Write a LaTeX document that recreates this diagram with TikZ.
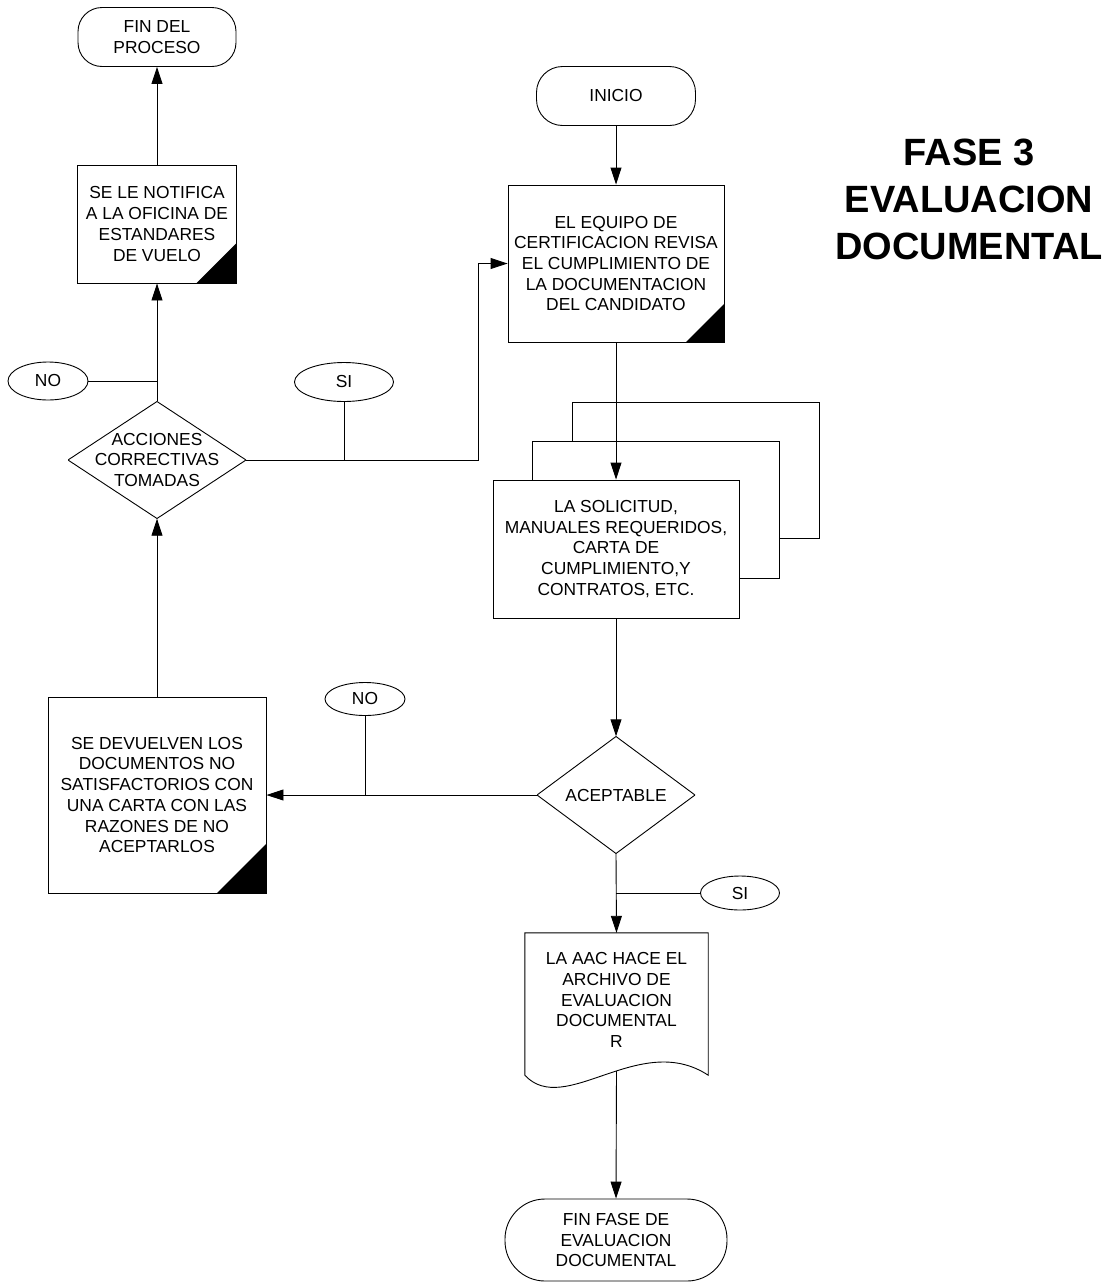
\documentclass[tikz,border=0pt]{standalone}
\usepackage{fontspec}
\setmainfont{Liberation Sans}
\usetikzlibrary{arrows.meta,shapes.geometric,calc}

\begin{document}
\begin{tikzpicture}[x=1pt,y=-1pt,
  every node/.style={font=\fontsize{17.4}{20.7}\selectfont, align=center, inner sep=0pt},
  line/.style={draw=black, line width=0.9pt},
  flow/.style={line, -{Triangle[length=17pt,width=11pt]}},
  terminal/.style={draw, line width=0.9pt, rounded corners=#1},
  terminal/.default=26pt,
  process/.style={draw, line width=0.9pt, fill=white},
  marked/.style={process, path picture={\fill[black] ([xshift=-#1]path picture bounding box.south east) -- (path picture bounding box.south east) -- ([yshift=#1]path picture bounding box.south east) -- cycle;}},
  decision/.style={path picture={\draw[black, line width=0.9pt] (path picture bounding box.north) -- (path picture bounding box.east) -- (path picture bounding box.south) -- (path picture bounding box.west) -- cycle;}},
  tag/.style={draw, ellipse, line width=0.9pt},
]
\useasboundingbox (0,0) rectangle (1112,1285);

% left column: corrective actions loop
\node[terminal=24pt, minimum width=158pt, minimum height=59pt] (finproc) at (157,37) {FIN DEL\\PROCESO};
\node[marked=40pt, minimum width=159pt, minimum height=118pt] (notif) at (157,224) {SE LE NOTIFICA\\A LA OFICINA DE\\ESTANDARES\\DE VUELO};
\node[decision, minimum width=178pt, minimum height=117pt] (acc) at (157,460) {ACCIONES\\CORRECTIVAS\\TOMADAS};
\node[tag, minimum width=80pt, minimum height=38pt] (no1) at (48,381) {NO};
\node[tag, minimum width=99pt, minimum height=39pt] (si1) at (344,382) {SI};
\node[marked=49pt, minimum width=218pt, minimum height=196pt] (devol) at (157,795) {SE DEVUELVEN LOS\\DOCUMENTOS NO\\SATISFACTORIOS CON\\UNA CARTA CON LAS\\RAZONES DE NO\\ACEPTARLOS};
\node[tag, minimum width=80pt, minimum height=33pt] (no2) at (365,699) {NO};

% right column: main flow
\node[terminal=26pt, minimum width=159pt, minimum height=59pt] (inicio) at (616,96) {INICIO};
\node[marked=38pt, minimum width=216pt, minimum height=157pt] (equipo) at (616,263.5) {EL EQUIPO DE\\CERTIFICACION REVISA\\EL CUMPLIMIENTO DE\\LA DOCUMENTACION\\DEL CANDIDATO};
\node[process, minimum width=247pt, minimum height=136pt] (pila3) at (695.5,470) {};
\node[process, minimum width=247pt, minimum height=137pt] (pila2) at (655.5,509.5) {};
\node[process, minimum width=246pt, minimum height=138pt] (solic) at (616,549) {LA SOLICITUD,\\MANUALES REQUERIDOS,\\CARTA DE\\CUMPLIMIENTO,Y\\CONTRATOS, ETC.};
\node[decision, minimum width=158pt, minimum height=117pt] (acept) at (616,795) {ACEPTABLE};
\node[tag, minimum width=79pt, minimum height=34pt] (si2) at (740,893) {SI};

% document shape with wavy bottom
\node[minimum width=183pt, minimum height=134pt] (arch) at (616.5,1000) {LA AAC HACE EL\\ARCHIVO DE\\EVALUACION\\DOCUMENTAL\\R};
\draw[line] ($(arch.south west)+(0,8)$) -- (arch.north west) -- (arch.north east) -- ($(arch.south east)+(0,8)$)
  .. controls ($(arch.south west)+(115,-37)$) and ($(arch.south west)+(40,51)$) .. ($(arch.south west)+(0,8)$);
\coordinate (archout) at (616.5,1071);

\node[terminal=40pt, minimum width=222pt, minimum height=82pt] (finfase) at (616,1240) {FIN FASE DE\\EVALUACION\\DOCUMENTAL};

% title
\node[font=\bfseries\fontsize{38}{47}\selectfont] (titulo) at (969,199) {FASE 3\\EVALUACION\\DOCUMENTAL};

% connectors
\draw[flow] (notif.north) -- (finproc.south);
\draw[flow] (acc.north) -- (notif.south);
\draw[line] (no1.east) -- (no1.east -| acc.north);
\draw[flow] (devol.north) -- (acc.south);
\coordinate (esq) at (478,460);
\draw[flow] (acc.east) -- (esq) |- (equipo.west);
\draw[line] (si1.south) -- (si1.south |- acc.east);
\draw[flow] (inicio.south) -- (equipo.north);
\draw[flow] (equipo.south) -- (solic.north);
\draw[flow] (solic.south) -- (acept.north);
\draw[flow] (acept.west) -- (devol.east);
\draw[line] (no2.south) -- (no2.south |- acept.west);
\draw[flow] (acept.south) -- (arch.north);
\draw[line] (si2.west) -- (si2.west -| acept.south);
\draw[flow] (archout) -- (finfase.north);
\end{tikzpicture}
\end{document}
